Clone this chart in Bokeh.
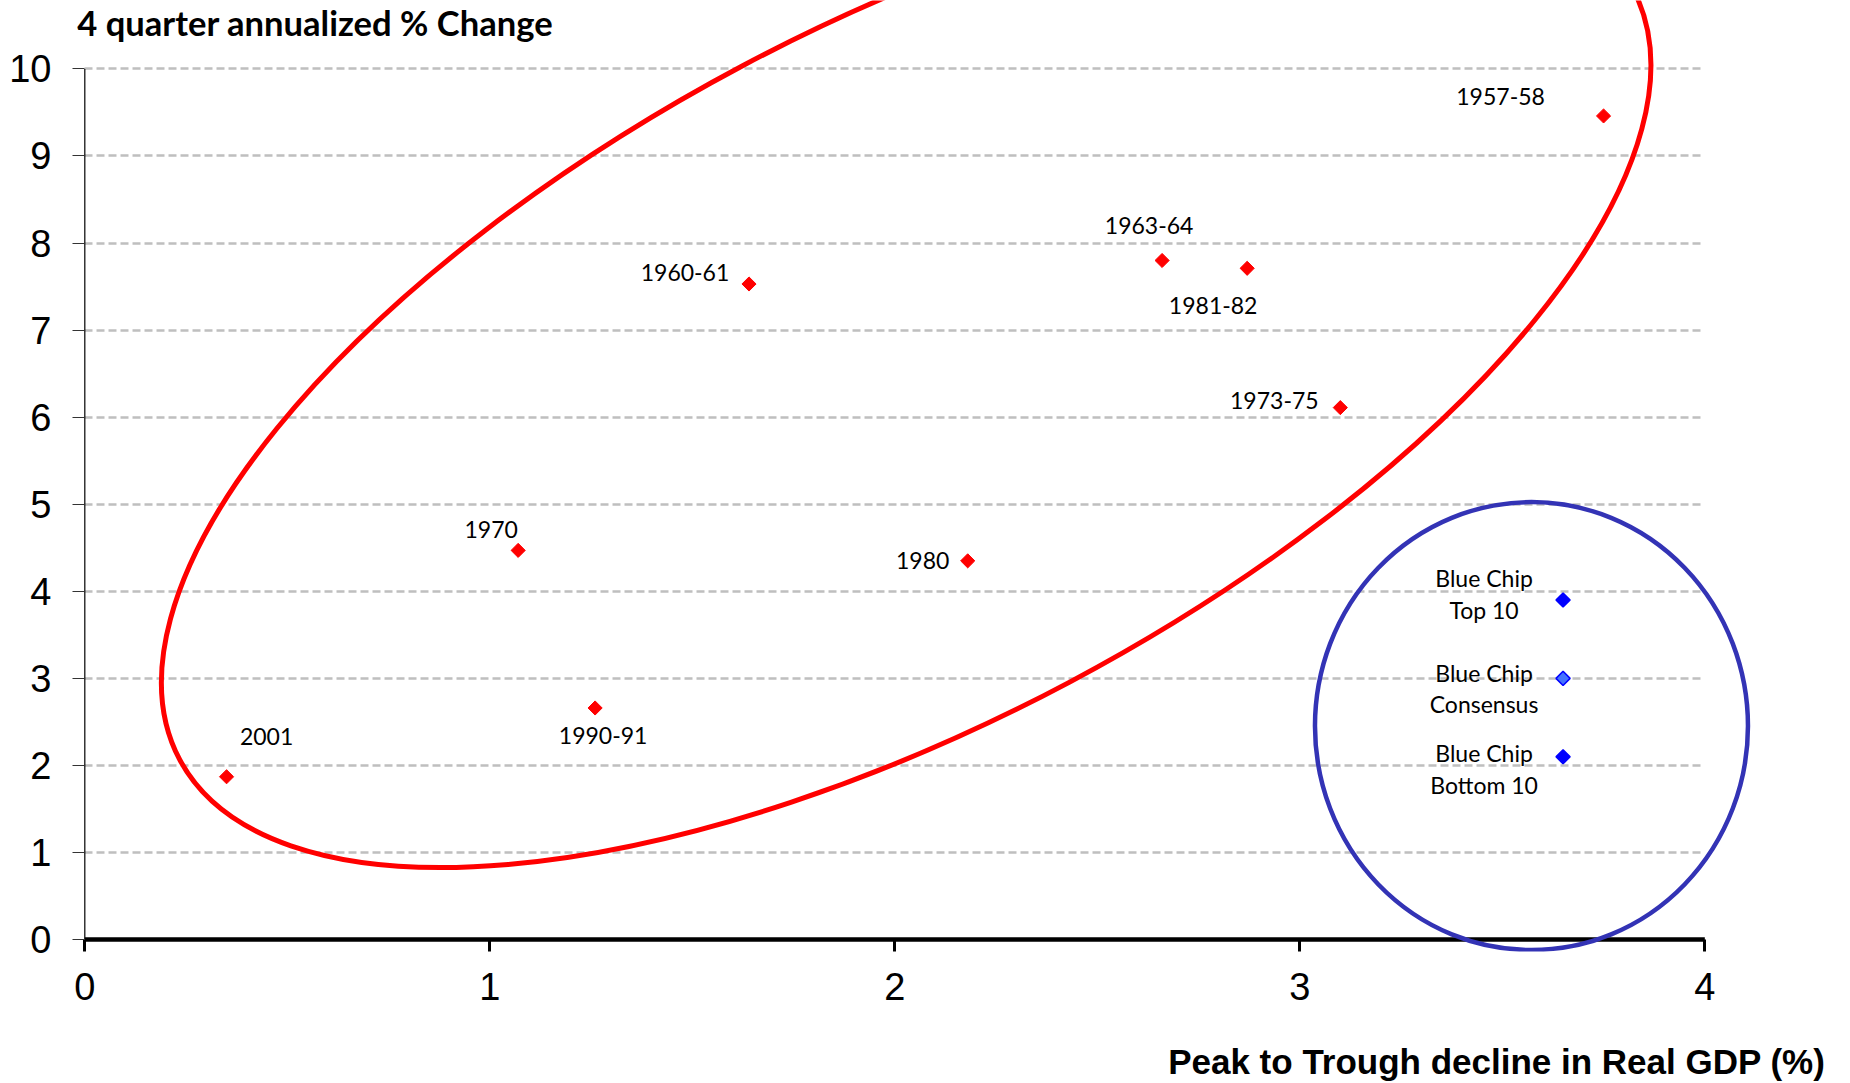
import numpy as np
from bokeh.plotting import figure
from bokeh.models import Range1d, FixedTicker, Label, ColumnDataSource
from bokeh.core.properties import value
from bokeh.embed import file_html
from bokeh.resources import INLINE

# Post-war recessions: peak-to-trough decline in real GDP (%) vs. 4-quarter annualized % change
recessions = ["2001", "1970", "1990-91", "1960-61", "1980", "1963-64", "1981-82", "1973-75", "1957-58"]
gdp_decline = [0.35, 1.07, 1.26, 1.64, 2.18, 2.66, 2.87, 3.10, 3.75]
pct_change = [1.87, 4.47, 2.66, 7.53, 4.35, 7.80, 7.71, 6.11, 9.46]

# Blue Chip forecasts
forecasts = ["Blue Chip\nTop 10", "Blue Chip\nConsensus", "Blue Chip\nBottom 10"]
forecast_decline = [3.65, 3.65, 3.65]
forecast_change = [3.90, 3.00, 2.10]

x_ticks = [0, 1, 2, 3, 4]
y_ticks = list(range(0, 11))

# label placement around each point (pixels)
rec_dx = [40, -27, 8, -64, -45, -13, -34, -66, -103]
rec_dy = [-40, -21, 28, -11, 0, -35, 37, -7, -19]
fc_dx = [-79, -79, -79]
fc_dy = [-6, 10, 12]

LABEL_FONT = "Lato"
TICK_FONT = "Liberation Sans"

p = figure(
    width=1850, height=1083,
    x_range=Range1d(-0.0304, 4.2980), y_range=Range1d(-0.137, 10.786),
    output_backend="svg", toolbar_location=None, title=None,
    min_border_left=72, min_border_right=25, min_border_top=0, min_border_bottom=132,
    outline_line_color=None, background_fill_color="white", border_fill_color="white",
)

# y axis: ticks reach from the frame edge to the zero line
p.yaxis.ticker = FixedTicker(ticks=y_ticks)
p.yaxis.bounds = (y_ticks[0], y_ticks[-1])
p.yaxis.axis_line_color = None
p.yaxis.major_tick_in = 12
p.yaxis.major_tick_out = 0
p.yaxis.major_tick_line_color = "#333333"
p.yaxis.minor_tick_line_color = None
p.yaxis.major_label_text_font = TICK_FONT
p.yaxis.major_label_text_font_size = "38px"
p.yaxis.major_label_text_color = "black"
p.yaxis.major_label_standoff = 21

# x axis: labels and ticks hanging below the zero line
p.xaxis.ticker = FixedTicker(ticks=x_ticks)
p.xaxis.axis_line_color = None
p.xaxis.major_tick_in = 12
p.xaxis.major_tick_out = 0
p.xaxis.major_tick_line_width = 3
p.xaxis.major_tick_line_color = "black"
p.xaxis.minor_tick_line_color = None
p.xaxis.major_label_text_font = TICK_FONT
p.xaxis.major_label_text_font_size = "38px"
p.xaxis.major_label_text_color = "black"
p.xaxis.major_label_standoff = 21

p.xgrid.visible = False
p.ygrid.grid_line_color = "#BFBFBF"
p.ygrid.grid_line_dash = "8 4"
p.ygrid.grid_line_width = 2.5
p.ygrid.cross_bounds = (x_ticks[0], x_ticks[-1])

# axis lines: thin vertical one, heavy zero line along x
p.segment(x0=[0], y0=[y_ticks[0]], x1=[0], y1=[y_ticks[-1]],
          line_color="black", line_width=1.2)
p.segment(x0=[x_ticks[0]], y0=[0], x1=[x_ticks[-1]], y1=[0],
          line_color="black", line_width=4.5, line_cap="butt")

# red ellipse around the historical recessions
p.ellipse(x=[2.028], y=[6.497], width=[1645], height=[698],
          width_units="screen", height_units="screen",
          angle=np.radians(27.95), fill_color=None,
          line_color="#FF0000", line_width=5)

# blue circle around the forecasts
p.ellipse(x=[3.572], y=[2.452], width=[433], height=[448],
          width_units="screen", height_units="screen",
          fill_color=None, line_color="#3333B5", line_width=4.5)

rec_src = ColumnDataSource(dict(x=gdp_decline, y=pct_change, name=recessions,
                                dx=rec_dx, dy=rec_dy))
p.scatter("x", "y", source=rec_src, marker="square", size=10, angle=np.pi / 4,
          fill_color="#FF0000", line_color="#FF0000")
p.text("x", "y", text="name", source=rec_src, x_offset="dx", y_offset="dy",
       text_align="center", text_baseline="middle",
       text_font=value(LABEL_FONT), text_font_size="23px", text_color="black")

fc_src = ColumnDataSource(dict(x=forecast_decline, y=forecast_change, name=forecasts,
                               dx=fc_dx, dy=fc_dy,
                               fill=["#0000FF", "#4472FF", "#0000FF"]))
p.scatter("x", "y", source=fc_src, marker="square", size=10, angle=np.pi / 4,
          fill_color="fill", line_color="#0000FF", line_width=1.5)
p.text("x", "y", text="name", source=fc_src, x_offset="dx", y_offset="dy",
       text_align="center", text_baseline="middle", text_line_height=1.13,
       text_font=value(LABEL_FONT), text_font_size="23px", text_color="black")

# y axis title, set inside the top-left corner
p.add_layout(Label(x=-0.0188, y=10.528, text="4 quarter annualized % Change",
                   text_align="left", text_baseline="middle",
                   text_font=LABEL_FONT, text_font_style="bold",
                   text_font_size="34.6px", text_color="black"))

# x axis title, flush right under the tick labels (kept in the lower panel so it is not clipped)
p.add_layout(Label(x=4.298, y=-1.397, text="Peak to Trough decline in Real GDP (%)",
                   text_align="right", text_baseline="middle",
                   text_font=TICK_FONT, text_font_style="bold",
                   text_font_size="35px", text_color="black"), "below")

open("out.html", "w").write(file_html(p, INLINE, title="Recessions vs. Blue Chip forecasts"))
